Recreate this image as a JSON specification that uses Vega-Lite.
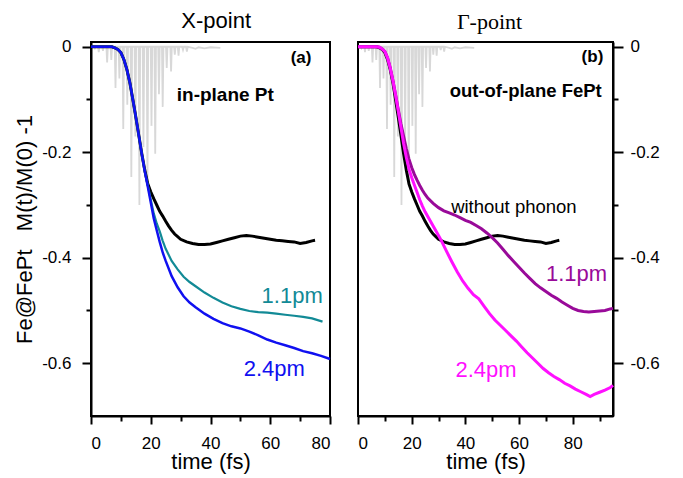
{
  "$schema": "https://vega.github.io/schema/vega-lite/v6.json",
  "background": "white",
  "padding": {"left": 12, "top": 9, "right": 5, "bottom": 2},
  "bounds": "flush",
  "spacing": 28,
  "config": {
    "view": {"stroke": "black", "strokeWidth": 2},
    "font": "Liberation Sans",
    "axis": {
      "domainColor": "black", "domainWidth": 2, "tickColor": "black", "tickWidth": 2,
      "labelFont": "Liberation Sans", "labelFontSize": 17, "labelColor": "black",
      "titleFont": "Liberation Sans", "titleFontSize": 22, "titleFontWeight": "normal", "titleColor": "black",
      "grid": false
    }
  },
  "datasets": {
    "pulse": [
      {"t":0,"v":0},{"t":1.0,"v":0},{"t":1.3,"v":-0.003},{"t":1.6,"v":0},
      {"t":2.35,"v":0},{"t":2.6,"v":-0.01},{"t":2.85,"v":0},
      {"t":3.75,"v":0},{"t":4.0,"v":-0.008},{"t":4.25,"v":0},
      {"t":5.15,"v":0},{"t":5.4,"v":-0.03},{"t":5.65,"v":0},
      {"t":6.55,"v":0},{"t":6.8,"v":-0.025},{"t":7.05,"v":0},
      {"t":7.95,"v":0},{"t":8.2,"v":-0.078},{"t":8.45,"v":0},
      {"t":9.25,"v":0},{"t":9.5,"v":-0.06},{"t":9.75,"v":0},
      {"t":10.55,"v":0},{"t":10.8,"v":-0.156},{"t":11.05,"v":0},
      {"t":11.9,"v":0},{"t":12.15,"v":-0.11},{"t":12.4,"v":0},
      {"t":13.25,"v":0},{"t":13.5,"v":-0.247},{"t":13.75,"v":0},
      {"t":14.6,"v":0},{"t":14.85,"v":-0.17},{"t":15.1,"v":0},
      {"t":15.95,"v":0},{"t":16.2,"v":-0.3},{"t":16.45,"v":0},
      {"t":17.3,"v":0},{"t":17.55,"v":-0.19},{"t":17.8,"v":0},
      {"t":18.65,"v":0},{"t":18.9,"v":-0.265},{"t":19.15,"v":0},
      {"t":20.0,"v":0},{"t":20.25,"v":-0.15},{"t":20.5,"v":0},
      {"t":21.25,"v":0},{"t":21.5,"v":-0.203},{"t":21.75,"v":0},
      {"t":22.5,"v":0},{"t":22.75,"v":-0.09},{"t":23.0,"v":0},
      {"t":23.75,"v":0},{"t":24.0,"v":-0.114},{"t":24.25,"v":0},
      {"t":25.1,"v":0},{"t":25.35,"v":-0.04},{"t":25.6,"v":0},
      {"t":26.55,"v":0},{"t":26.8,"v":-0.047},{"t":27.05,"v":0},
      {"t":27.8,"v":0},{"t":28.05,"v":-0.015},{"t":28.3,"v":0},
      {"t":29.05,"v":0},{"t":29.3,"v":-0.017},{"t":29.55,"v":0},
      {"t":30.5,"v":0},{"t":30.8,"v":-0.006},{"t":31.1,"v":0},
      {"t":31.8,"v":0},{"t":32.1,"v":-0.009},{"t":32.4,"v":0},
      {"t":34,"v":-0.002},{"t":35,"v":-0.004},{"t":36,"v":-0.001},{"t":38,"v":-0.003},{"t":40,"v":-0.001},{"t":43.3,"v":-0.002}
    ],
    "nophonon": [
      {"t":0,"v":0},{"t":7,"v":0},{"t":8,"v":-0.002},{"t":9,"v":-0.005},{"t":10,"v":-0.011},{"t":11,"v":-0.024},
      {"t":12,"v":-0.043},{"t":13,"v":-0.068},{"t":14,"v":-0.1},{"t":15,"v":-0.133},{"t":16,"v":-0.168},{"t":17,"v":-0.203},
      {"t":18,"v":-0.234},{"t":19,"v":-0.26},{"t":20,"v":-0.275},{"t":21,"v":-0.288},{"t":22,"v":-0.3},{"t":23,"v":-0.312},
      {"t":24,"v":-0.321},{"t":25,"v":-0.331},{"t":26,"v":-0.34},{"t":27,"v":-0.348},{"t":28,"v":-0.355},{"t":29,"v":-0.36},
      {"t":30,"v":-0.365},{"t":32,"v":-0.37},{"t":34,"v":-0.373},{"t":36,"v":-0.375},{"t":38,"v":-0.375},{"t":40,"v":-0.374},
      {"t":42,"v":-0.371},{"t":44,"v":-0.368},{"t":46,"v":-0.365},{"t":48,"v":-0.362},{"t":50,"v":-0.359},{"t":52,"v":-0.358},
      {"t":54,"v":-0.359},{"t":56,"v":-0.361},{"t":58,"v":-0.363},{"t":60,"v":-0.365},{"t":62,"v":-0.367},{"t":64,"v":-0.368},
      {"t":66,"v":-0.369},{"t":68,"v":-0.37},{"t":70,"v":-0.373},{"t":72,"v":-0.371},{"t":74,"v":-0.368},{"t":75,"v":-0.367}
    ],
    "blueL": [
      {"t":0,"v":0},{"t":7,"v":0},{"t":8,"v":-0.002},{"t":9,"v":-0.005},{"t":10,"v":-0.011},{"t":11,"v":-0.024},
      {"t":12,"v":-0.043},{"t":13,"v":-0.068},{"t":14,"v":-0.1},{"t":15,"v":-0.133},{"t":16,"v":-0.168},{"t":17,"v":-0.203},
      {"t":18,"v":-0.236},{"t":19,"v":-0.265},{"t":20,"v":-0.295},{"t":21,"v":-0.325},{"t":22,"v":-0.348},{"t":23,"v":-0.37},
      {"t":24,"v":-0.39},{"t":25,"v":-0.406},{"t":27,"v":-0.435},{"t":29,"v":-0.456},{"t":31,"v":-0.473},{"t":33,"v":-0.485},
      {"t":35,"v":-0.494},{"t":38,"v":-0.506},{"t":41,"v":-0.516},{"t":44,"v":-0.524},{"t":47,"v":-0.53},{"t":50,"v":-0.534},
      {"t":53,"v":-0.54},{"t":56,"v":-0.547},{"t":59,"v":-0.555},{"t":62,"v":-0.561},{"t":65,"v":-0.566},{"t":68,"v":-0.571},
      {"t":71,"v":-0.577},{"t":74,"v":-0.581},{"t":77,"v":-0.586},{"t":80,"v":-0.592}
    ],
    "tealL": [
      {"t":0,"v":0},{"t":7,"v":0},{"t":8,"v":-0.002},{"t":9,"v":-0.005},{"t":10,"v":-0.011},{"t":11,"v":-0.024},
      {"t":12,"v":-0.043},{"t":13,"v":-0.068},{"t":14,"v":-0.1},{"t":15,"v":-0.133},{"t":16,"v":-0.168},{"t":17,"v":-0.203},
      {"t":18,"v":-0.236},{"t":19,"v":-0.262},{"t":20,"v":-0.29},{"t":21,"v":-0.316},{"t":22,"v":-0.335},{"t":23,"v":-0.35},
      {"t":24,"v":-0.368},{"t":25,"v":-0.383},{"t":27,"v":-0.406},{"t":29,"v":-0.422},{"t":31,"v":-0.436},{"t":33,"v":-0.446},
      {"t":35,"v":-0.454},{"t":38,"v":-0.466},{"t":41,"v":-0.476},{"t":44,"v":-0.485},{"t":47,"v":-0.492},{"t":50,"v":-0.497},
      {"t":53,"v":-0.501},{"t":56,"v":-0.503},{"t":59,"v":-0.504},{"t":62,"v":-0.506},{"t":65,"v":-0.508},{"t":68,"v":-0.51},
      {"t":71,"v":-0.512},{"t":74,"v":-0.515},{"t":77.5,"v":-0.521}
    ],
    "magentaR": [
      {"t":0,"v":0},{"t":7,"v":0},{"t":8,"v":-0.001},{"t":9,"v":-0.004},{"t":10,"v":-0.009},{"t":11,"v":-0.021},
      {"t":12,"v":-0.04},{"t":13,"v":-0.064},{"t":14,"v":-0.092},{"t":15,"v":-0.122},{"t":16,"v":-0.153},{"t":17,"v":-0.184},
      {"t":18,"v":-0.21},{"t":19,"v":-0.232},{"t":20,"v":-0.248},{"t":21,"v":-0.262},{"t":22,"v":-0.276},{"t":23,"v":-0.29},
      {"t":24,"v":-0.302},{"t":25,"v":-0.313},{"t":26,"v":-0.322},{"t":27,"v":-0.331},{"t":28,"v":-0.34},{"t":29,"v":-0.349},
      {"t":30,"v":-0.358},{"t":31,"v":-0.367},{"t":33,"v":-0.388},{"t":35,"v":-0.408},{"t":37,"v":-0.427},{"t":39,"v":-0.444},
      {"t":41,"v":-0.458},{"t":43,"v":-0.47},{"t":45,"v":-0.478},{"t":47,"v":-0.492},{"t":49,"v":-0.506},{"t":51,"v":-0.518},
      {"t":53,"v":-0.528},{"t":55,"v":-0.538},{"t":57,"v":-0.548},{"t":59,"v":-0.558},{"t":61,"v":-0.569},{"t":63,"v":-0.58},
      {"t":65,"v":-0.59},{"t":67,"v":-0.6},{"t":69,"v":-0.61},{"t":71,"v":-0.618},{"t":73,"v":-0.625},{"t":75,"v":-0.631},
      {"t":77,"v":-0.638},{"t":79,"v":-0.643},{"t":81,"v":-0.649},{"t":83,"v":-0.654},{"t":85,"v":-0.659},{"t":86.5,"v":-0.663},
      {"t":88,"v":-0.659},{"t":90,"v":-0.655},{"t":92,"v":-0.651},{"t":94,"v":-0.646},{"t":95,"v":-0.642}
    ],
    "purpleR": [
      {"t":0,"v":0},{"t":7,"v":0},{"t":8,"v":-0.001},{"t":9,"v":-0.004},{"t":10,"v":-0.009},{"t":11,"v":-0.021},
      {"t":12,"v":-0.04},{"t":13,"v":-0.064},{"t":14,"v":-0.091},{"t":15,"v":-0.119},{"t":16,"v":-0.146},{"t":17,"v":-0.17},
      {"t":18,"v":-0.193},{"t":19,"v":-0.213},{"t":20,"v":-0.229},{"t":21,"v":-0.242},{"t":22,"v":-0.253},{"t":23,"v":-0.263},
      {"t":24,"v":-0.272},{"t":25,"v":-0.28},{"t":26,"v":-0.287},{"t":28,"v":-0.297},{"t":30,"v":-0.305},{"t":32,"v":-0.311},
      {"t":34,"v":-0.315},{"t":36,"v":-0.319},{"t":38,"v":-0.324},{"t":40,"v":-0.329},{"t":42,"v":-0.333},{"t":44,"v":-0.339},
      {"t":46,"v":-0.345},{"t":48,"v":-0.353},{"t":50,"v":-0.362},{"t":52,"v":-0.372},{"t":54,"v":-0.384},{"t":56,"v":-0.396},
      {"t":58,"v":-0.407},{"t":60,"v":-0.418},{"t":62,"v":-0.429},{"t":64,"v":-0.439},{"t":66,"v":-0.449},{"t":68,"v":-0.457},
      {"t":70,"v":-0.464},{"t":72,"v":-0.471},{"t":74,"v":-0.477},{"t":76,"v":-0.484},{"t":78,"v":-0.49},{"t":80,"v":-0.496},
      {"t":82,"v":-0.5},{"t":84,"v":-0.502},{"t":86,"v":-0.503},{"t":88,"v":-0.502},{"t":90,"v":-0.501},{"t":92,"v":-0.5},
      {"t":94,"v":-0.497},{"t":95,"v":-0.496}
    ]
  },
  "hconcat": [
    {
      "width": 239,
      "height": 374,
      "resolve": {"axis": {"x": "independent", "y": "independent"}},
      "layer": [
        {
          "data": {"name": "pulse"},
          "mark": {"type": "line", "color": "#d8d8d8", "strokeWidth": 1.8},
          "encoding": {
            "x": {"field": "t", "type": "quantitative", "scale": {"domain": [0, 80], "nice": false},
                  "axis": {"orient": "bottom", "values": [0, 20, 40, 60, 80], "tickSize": 8, "labelPadding": 11, "title": "time (fs)", "titlePadding": 0}},
            "y": {"field": "v", "type": "quantitative", "scale": {"domain": [-0.7, 0.009], "nice": false},
                  "axis": {"orient": "left", "values": [0, -0.2, -0.4, -0.6], "tickSize": 9, "labelPadding": 11,
                           "labelExpr": "datum.value == 0 ? '0' : '-' + format(-datum.value, '.1f')",
                           "title": "Fe@FePt\u00a0\u00a0\u00a0M(t)/M(0) -1", "titlePadding": 5}}
          }
        },
        {
          "data": {"name": "nophonon"},
          "mark": {"type": "line", "color": "black", "strokeWidth": 3},
          "encoding": {
            "x": {"field": "t", "type": "quantitative",
                  "axis": {"orient": "bottom", "values": [10, 30, 50, 70], "tickSize": 5, "labels": false, "domain": false, "title": null}},
            "y": {"field": "v", "type": "quantitative",
                  "axis": {"orient": "left", "values": [-0.1, -0.3, -0.5], "tickSize": 5, "labels": false, "domain": false, "title": null}}
          }
        },
        {
          "data": {"name": "tealL"},
          "mark": {"type": "line", "color": "#128a96", "strokeWidth": 2.2},
          "encoding": {"x": {"field": "t", "type": "quantitative", "axis": null}, "y": {"field": "v", "type": "quantitative", "axis": null}}
        },
        {
          "data": {"name": "blueL"},
          "mark": {"type": "line", "color": "#1010f0", "strokeWidth": 2.5},
          "encoding": {"x": {"field": "t", "type": "quantitative", "axis": null}, "y": {"field": "v", "type": "quantitative", "axis": null}}
        },
        {
          "data": {"values": [{"t": 41.9, "v": 0.0354, "label": "X-point"}]},
          "mark": {"type": "text", "font": "Liberation Sans", "fontSize": 22, "align": "center", "baseline": "alphabetic", "color": "black"},
          "encoding": {"x": {"field": "t", "type": "quantitative", "axis": null}, "y": {"field": "v", "type": "quantitative", "axis": null}, "text": {"field": "label"}}
        },
        {
          "data": {"values": [{"t": 73.8, "v": -0.031, "label": "(a)"}]},
          "mark": {"type": "text", "font": "Liberation Sans", "fontSize": 17, "fontWeight": "bold", "align": "right", "baseline": "alphabetic", "color": "black"},
          "encoding": {"x": {"field": "t", "type": "quantitative", "axis": null}, "y": {"field": "v", "type": "quantitative", "axis": null}, "text": {"field": "label"}}
        },
        {
          "data": {"values": [{"t": 28.7, "v": -0.102, "label": "in-plane Pt"}]},
          "mark": {"type": "text", "font": "Liberation Sans", "fontSize": 19, "fontWeight": "bold", "align": "left", "baseline": "alphabetic", "color": "black"},
          "encoding": {"x": {"field": "t", "type": "quantitative", "axis": null}, "y": {"field": "v", "type": "quantitative", "axis": null}, "text": {"field": "label"}}
        },
        {
          "data": {"values": [{"t": 57.1, "v": -0.485, "label": "1.1pm"}]},
          "mark": {"type": "text", "font": "Liberation Sans", "fontSize": 22, "align": "left", "baseline": "alphabetic", "color": "#128a96"},
          "encoding": {"x": {"field": "t", "type": "quantitative", "axis": null}, "y": {"field": "v", "type": "quantitative", "axis": null}, "text": {"field": "label"}}
        },
        {
          "data": {"values": [{"t": 51.1, "v": -0.624, "label": "2.4pm"}]},
          "mark": {"type": "text", "font": "Liberation Sans", "fontSize": 22, "align": "left", "baseline": "alphabetic", "color": "#1010f0"},
          "encoding": {"x": {"field": "t", "type": "quantitative", "axis": null}, "y": {"field": "v", "type": "quantitative", "axis": null}, "text": {"field": "label"}}
        }
      ]
    },
    {
      "width": 255,
      "height": 374,
      "resolve": {"axis": {"x": "independent", "y": "independent"}},
      "layer": [
        {
          "data": {"name": "pulse"},
          "mark": {"type": "line", "color": "#d8d8d8", "strokeWidth": 1.8},
          "encoding": {
            "x": {"field": "t", "type": "quantitative", "scale": {"domain": [0, 95], "nice": false},
                  "axis": {"orient": "bottom", "values": [0, 20, 40, 60, 80], "tickSize": 8, "labelPadding": 11, "title": "time (fs)", "titlePadding": 0}},
            "y": {"field": "v", "type": "quantitative", "scale": {"domain": [-0.7, 0.009], "nice": false},
                  "axis": {"orient": "right", "values": [0, -0.2, -0.4, -0.6], "tickSize": 10, "labelPadding": 7,
                           "labelExpr": "datum.value == 0 ? '0' : '-' + format(-datum.value, '.1f')", "title": null}}
          }
        },
        {
          "data": {"name": "nophonon"},
          "mark": {"type": "line", "color": "black", "strokeWidth": 3},
          "encoding": {
            "x": {"field": "t", "type": "quantitative",
                  "axis": {"orient": "bottom", "values": [10, 30, 50, 70, 90], "tickSize": 5, "labels": false, "domain": false, "title": null}},
            "y": {"field": "v", "type": "quantitative",
                  "axis": {"orient": "right", "values": [-0.1, -0.3, -0.5], "tickSize": 5, "labels": false, "domain": false, "title": null}}
          }
        },
        {
          "data": {"name": "purpleR"},
          "mark": {"type": "line", "color": "#990a99", "strokeWidth": 3},
          "encoding": {"x": {"field": "t", "type": "quantitative", "axis": null}, "y": {"field": "v", "type": "quantitative", "axis": null}}
        },
        {
          "data": {"name": "magentaR"},
          "mark": {"type": "line", "color": "#ff10ff", "strokeWidth": 3},
          "encoding": {"x": {"field": "t", "type": "quantitative", "axis": null}, "y": {"field": "v", "type": "quantitative", "axis": null}}
        },
        {
          "data": {"values": [{"t": 49.0, "v": 0.034, "label": "Γ-point"}]},
          "mark": {"type": "text", "font": "Liberation Serif", "fontSize": 22, "align": "center", "baseline": "alphabetic", "color": "black"},
          "encoding": {"x": {"field": "t", "type": "quantitative", "axis": null}, "y": {"field": "v", "type": "quantitative", "axis": null}, "text": {"field": "label"}}
        },
        {
          "data": {"values": [{"t": 91.4, "v": -0.028, "label": "(b)"}]},
          "mark": {"type": "text", "font": "Liberation Sans", "fontSize": 17, "fontWeight": "bold", "align": "right", "baseline": "alphabetic", "color": "black"},
          "encoding": {"x": {"field": "t", "type": "quantitative", "axis": null}, "y": {"field": "v", "type": "quantitative", "axis": null}, "text": {"field": "label"}}
        },
        {
          "data": {"values": [{"t": 90.8, "v": -0.096, "label": "out-of-plane FePt"}]},
          "mark": {"type": "text", "font": "Liberation Sans", "fontSize": 18.5, "fontWeight": "bold", "align": "right", "baseline": "alphabetic", "color": "black"},
          "encoding": {"x": {"field": "t", "type": "quantitative", "axis": null}, "y": {"field": "v", "type": "quantitative", "axis": null}, "text": {"field": "label"}}
        },
        {
          "data": {"values": [{"t": 34.7, "v": -0.3156, "label": "without phonon"}]},
          "mark": {"type": "text", "font": "Liberation Sans", "fontSize": 18.5, "align": "left", "baseline": "alphabetic", "color": "black"},
          "encoding": {"x": {"field": "t", "type": "quantitative", "axis": null}, "y": {"field": "v", "type": "quantitative", "axis": null}, "text": {"field": "label"}}
        },
        {
          "data": {"values": [{"t": 70.0, "v": -0.4445, "label": "1.1pm"}]},
          "mark": {"type": "text", "font": "Liberation Sans", "fontSize": 22, "align": "left", "baseline": "alphabetic", "color": "#990a99"},
          "encoding": {"x": {"field": "t", "type": "quantitative", "axis": null}, "y": {"field": "v", "type": "quantitative", "axis": null}, "text": {"field": "label"}}
        },
        {
          "data": {"values": [{"t": 36.3, "v": -0.6265, "label": "2.4pm"}]},
          "mark": {"type": "text", "font": "Liberation Sans", "fontSize": 22, "align": "left", "baseline": "alphabetic", "color": "#ff10ff"},
          "encoding": {"x": {"field": "t", "type": "quantitative", "axis": null}, "y": {"field": "v", "type": "quantitative", "axis": null}, "text": {"field": "label"}}
        }
      ]
    }
  ]
}
